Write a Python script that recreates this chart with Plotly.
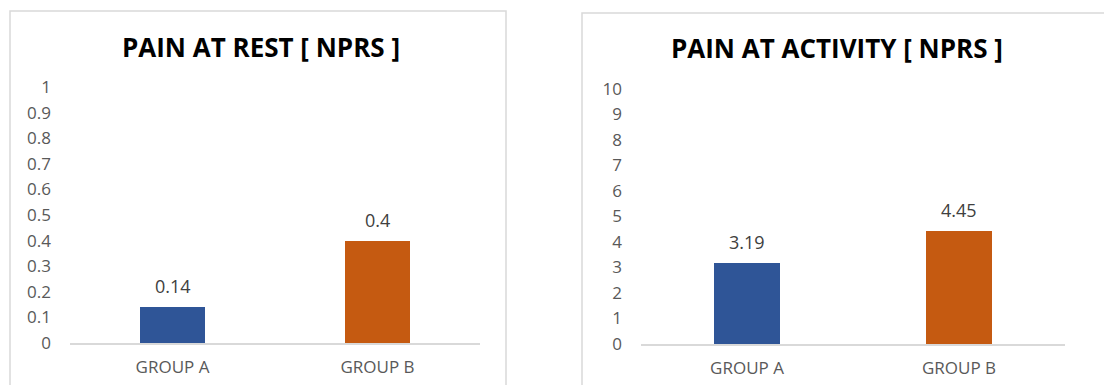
import plotly.graph_objects as go

categories = ["GROUP A", "GROUP B"]
rest_values = [0.14, 0.4]
activity_values = [3.19, 4.45]
rest_ticks = [0, 0.1, 0.2, 0.3, 0.4, 0.5, 0.6, 0.7, 0.8, 0.9, 1]
activity_ticks = [0, 1, 2, 3, 4, 5, 6, 7, 8, 9, 10]
bar_colors = ["#2F5597", "#C55A11"]
titles = ["PAIN AT REST [ NPRS ]", "PAIN AT ACTIVITY [ NPRS ]"]

W, H = 1104, 385
FONT = "Open Sans"
TICK_COLOR = "#595959"
LABEL_COLOR = "#404040"

fig = go.Figure()
fig.add_trace(go.Bar(x=categories, y=rest_values, marker=dict(color=bar_colors, line=dict(width=0)),
                     width=0.32, xaxis="x", yaxis="y", showlegend=False, hoverinfo="skip"))
fig.add_trace(go.Bar(x=categories, y=activity_values, marker=dict(color=bar_colors, line=dict(width=0)),
                     width=0.31, xaxis="x2", yaxis="y2", showlegend=False, hoverinfo="skip"))

def px_x(v):
    return v / W

def px_y(v):
    return (H - v) / H

axis_common = dict(showgrid=False, zeroline=False, fixedrange=True, automargin=False)
xcommon = dict(axis_common, showline=True, linecolor="#D9D9D9", linewidth=1.5,
               tickfont=dict(family=FONT, size=17, color=TICK_COLOR), ticks="", ticklabelstandoff=8)
ycommon = dict(axis_common, showline=False, ticks="",
               tickfont=dict(family=FONT, size=17, color=TICK_COLOR), ticklabelstandoff=18)

fig.update_layout(
    width=W, height=H,
    margin=dict(l=0, r=0, t=0, b=0, autoexpand=False),
    paper_bgcolor="white", plot_bgcolor="white",
    bargap=0,
    xaxis=dict(xcommon, domain=[px_x(70), px_x(480)], anchor="y"),
    yaxis=dict(ycommon, domain=[px_y(343), px_y(87)], range=[0, 1], tickvals=rest_ticks,
               ticktext=[f"{t:g}" for t in rest_ticks], anchor="x"),
    xaxis2=dict(xcommon, domain=[px_x(641), px_x(1065)], anchor="y2"),
    yaxis2=dict(ycommon, domain=[px_y(344), px_y(89)], range=[0, 10], tickvals=activity_ticks,
                ticktext=[str(t) for t in activity_ticks], anchor="x2"),
)

# frames
fig.add_shape(type="rect", xref="paper", yref="paper", x0=px_x(10), x1=px_x(506), y0=px_y(400), y1=px_y(11),
              line=dict(color="#D9D9D9", width=1.5), fillcolor="rgba(0,0,0,0)", layer="below")
fig.add_shape(type="rect", xref="paper", yref="paper", x0=px_x(582), x1=px_x(1120), y0=px_y(400), y1=px_y(13),
              line=dict(color="#D9D9D9", width=1.5), fillcolor="rgba(0,0,0,0)", layer="below")

# titles
fig.add_annotation(text=f"<b>{titles[0]}</b>", xref="paper", yref="paper", x=px_x(261), y=px_y(47),
                   showarrow=False, font=dict(family=FONT, size=26, color="#000000"), xanchor="center", yanchor="middle")
fig.add_annotation(text=f"<b>{titles[1]}</b>", xref="paper", yref="paper", x=px_x(837), y=px_y(48),
                   showarrow=False, font=dict(family=FONT, size=26, color="#000000"), xanchor="center", yanchor="middle")

# data labels
for xa, ya, vals in [("x", "y", rest_values), ("x2", "y2", activity_values)]:
    for c, v in zip(categories, vals):
        fig.add_annotation(text=f"{v:g}", x=c, y=v, xref=xa, yref=ya, showarrow=False,
                           yanchor="bottom", yshift=7, font=dict(family=FONT, size=18, color=LABEL_COLOR))

fig.write_html("out.html")
